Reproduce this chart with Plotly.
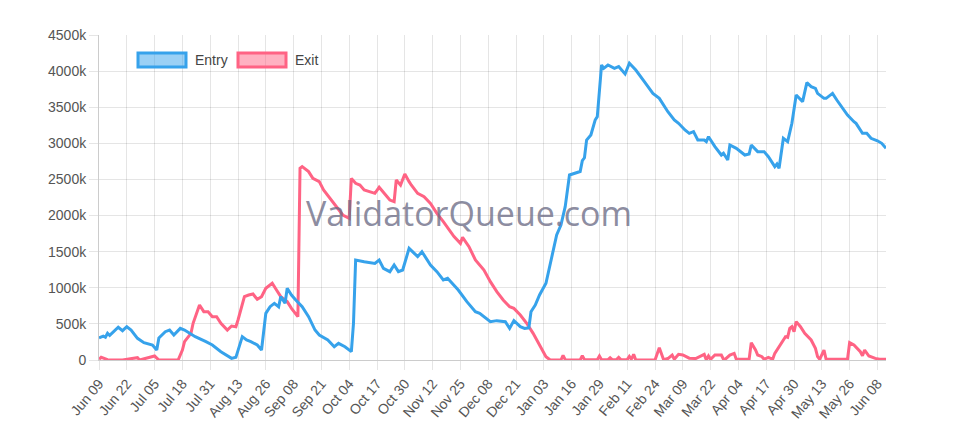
import plotly.graph_objects as go

# ---------------- data (values in thousands) ----------------
entry_dates = [
    "2024-06-09", "2024-06-11", "2024-06-12", "2024-06-13", "2024-06-14", "2024-06-16", "2024-06-18",
    "2024-06-20", "2024-06-22", "2024-06-24", "2024-06-27", "2024-06-30", "2024-07-04", "2024-07-06",
    "2024-07-07", "2024-07-10", "2024-07-12", "2024-07-14", "2024-07-17", "2024-07-19", "2024-07-24",
    "2024-07-29", "2024-08-01", "2024-08-05", "2024-08-10", "2024-08-12", "2024-08-15", "2024-08-17",
    "2024-08-19", "2024-08-22", "2024-08-24", "2024-08-26", "2024-08-28", "2024-08-30", "2024-09-01",
    "2024-09-02", "2024-09-04", "2024-09-05", "2024-09-07", "2024-09-09", "2024-09-12", "2024-09-15",
    "2024-09-18", "2024-09-20", "2024-09-24", "2024-09-27", "2024-09-29", "2024-10-02", "2024-10-05",
    "2024-10-06", "2024-10-07", "2024-10-11", "2024-10-16", "2024-10-18", "2024-10-20", "2024-10-23",
    "2024-10-25", "2024-10-27", "2024-10-29", "2024-11-01", "2024-11-05", "2024-11-07", "2024-11-11",
    "2024-11-14", "2024-11-17", "2024-11-19", "2024-11-24", "2024-11-28", "2024-12-02", "2024-12-04",
    "2024-12-06", "2024-12-09", "2024-12-12", "2024-12-16", "2024-12-18", "2024-12-20", "2024-12-23",
    "2024-12-25", "2024-12-27", "2024-12-28", "2024-12-30", "2025-01-01", "2025-01-04", "2025-01-06",
    "2025-01-08", "2025-01-09", "2025-01-11", "2025-01-13", "2025-01-15", "2025-01-18", "2025-01-20",
    "2025-01-21", "2025-01-22", "2025-01-23", "2025-01-25", "2025-01-27", "2025-01-28", "2025-01-30",
    "2025-01-31", "2025-02-02", "2025-02-05", "2025-02-07", "2025-02-10", "2025-02-12", "2025-02-15",
    "2025-02-19", "2025-02-23", "2025-02-26", "2025-03-02", "2025-03-05", "2025-03-07", "2025-03-10",
    "2025-03-12", "2025-03-14", "2025-03-16", "2025-03-19", "2025-03-20", "2025-03-21", "2025-03-24",
    "2025-03-27", "2025-03-28", "2025-03-30", "2025-03-31", "2025-04-03", "2025-04-07", "2025-04-09",
    "2025-04-10", "2025-04-13", "2025-04-16", "2025-04-18", "2025-04-21", "2025-04-22", "2025-04-23",
    "2025-04-25", "2025-04-27", "2025-04-29", "2025-05-01", "2025-05-04", "2025-05-06", "2025-05-08",
    "2025-05-10", "2025-05-11", "2025-05-14", "2025-05-15", "2025-05-18", "2025-05-20", "2025-05-23",
    "2025-05-25", "2025-05-28", "2025-05-29", "2025-06-01", "2025-06-03", "2025-06-05", "2025-06-08",
    "2025-06-10", "2025-06-12",
]
entry_values = [
    305, 330, 315, 370, 340, 392, 453,
    406, 461, 415, 300, 240, 208, 138,
    305, 392, 415, 346, 438, 415, 323,
    254, 208, 115, 23, 37, 323, 277,
    254, 208, 138, 646, 738, 785, 738,
    877, 785, 993, 900, 831, 738, 600,
    415, 346, 277, 184, 231, 184, 115,
    508, 1385, 1361, 1338, 1385, 1269, 1223,
    1315, 1223, 1246, 1546, 1431, 1500, 1315,
    1223, 1108, 1131, 969, 808, 669, 646,
    600, 531, 545, 531, 438, 545, 461,
    438, 445, 669, 760, 900, 1062, 1338,
    1615, 1731, 1869, 2123, 2562, 2585, 2610,
    2760, 2800, 3046, 3115, 3323, 3369, 4085,
    4038, 4085, 4038, 4062, 3960, 4108, 4015,
    3854, 3692, 3623, 3438, 3323, 3277, 3185,
    3138, 3162, 3046, 3046, 3023, 3092, 2954,
    2838, 2862, 2769, 2977, 2931, 2838, 2852,
    2977, 2885, 2885, 2815, 2677, 2714, 2654,
    3069, 3023, 3277, 3669, 3577, 3840, 3785,
    3762, 3692, 3623, 3623, 3692, 3600, 3485,
    3392, 3300, 3277, 3138, 3138, 3069, 3035,
    3000, 2931,
]

exit_dates = [
    "2024-06-09", "2024-06-10", "2024-06-13", "2024-06-20", "2024-06-27", "2024-06-28", "2024-07-05",
    "2024-07-07", "2024-07-16", "2024-07-18", "2024-07-19", "2024-07-22", "2024-07-23", "2024-07-25",
    "2024-07-26", "2024-07-28", "2024-07-30", "2024-08-01", "2024-08-03", "2024-08-05", "2024-08-08",
    "2024-08-10", "2024-08-12", "2024-08-13", "2024-08-16", "2024-08-18", "2024-08-20", "2024-08-22",
    "2024-08-24", "2024-08-26", "2024-08-29", "2024-08-31", "2024-09-02", "2024-09-05", "2024-09-07",
    "2024-09-10", "2024-09-11", "2024-09-12", "2024-09-15", "2024-09-17", "2024-09-20", "2024-09-22",
    "2024-09-25", "2024-09-28", "2024-10-01", "2024-10-04", "2024-10-05", "2024-10-07", "2024-10-09",
    "2024-10-11", "2024-10-14", "2024-10-16", "2024-10-18", "2024-10-21", "2024-10-23", "2024-10-25",
    "2024-10-26", "2024-10-28", "2024-10-30", "2024-11-01", "2024-11-02", "2024-11-05", "2024-11-08",
    "2024-11-11", "2024-11-14", "2024-11-17", "2024-11-20", "2024-11-22", "2024-11-25", "2024-11-26",
    "2024-11-29", "2024-12-02", "2024-12-06", "2024-12-09", "2024-12-12", "2024-12-15", "2024-12-18",
    "2024-12-20", "2024-12-23", "2024-12-26", "2024-12-29", "2025-01-01", "2025-01-04", "2025-01-06",
    "2025-01-11", "2025-01-12", "2025-01-13", "2025-01-20", "2025-01-21", "2025-01-22", "2025-01-28",
    "2025-01-29", "2025-01-30", "2025-02-02", "2025-02-03", "2025-02-04", "2025-02-06", "2025-02-07",
    "2025-02-08", "2025-02-11", "2025-02-12", "2025-02-13", "2025-02-14", "2025-02-15", "2025-02-24",
    "2025-02-26", "2025-02-28", "2025-03-02", "2025-03-04", "2025-03-05", "2025-03-07", "2025-03-09",
    "2025-03-12", "2025-03-15", "2025-03-18", "2025-03-19", "2025-03-20", "2025-03-21", "2025-03-22",
    "2025-03-24", "2025-03-27", "2025-03-28", "2025-03-29", "2025-03-31", "2025-04-02", "2025-04-03",
    "2025-04-09", "2025-04-10", "2025-04-12", "2025-04-13", "2025-04-15", "2025-04-16", "2025-04-18",
    "2025-04-20", "2025-04-21", "2025-04-23", "2025-04-25", "2025-04-26", "2025-04-27", "2025-04-28",
    "2025-04-29", "2025-04-30", "2025-05-01", "2025-05-03", "2025-05-05", "2025-05-08", "2025-05-10",
    "2025-05-11", "2025-05-12", "2025-05-14", "2025-05-15", "2025-05-25", "2025-05-26", "2025-05-28",
    "2025-05-31", "2025-06-01", "2025-06-02", "2025-06-04", "2025-06-07", "2025-06-09", "2025-06-12",
]
exit_values = [
    10, 37, 5, 0, 32, 0, 55,
    0, 0, 138, 254, 369, 508, 692,
    762, 669, 669, 600, 600, 508, 415,
    471, 461, 554, 877, 900, 914, 840,
    877, 993, 1062, 969, 877, 808, 715,
    600, 2654, 2677, 2608, 2515, 2469, 2354,
    2238, 2123, 2008, 1962, 2515, 2446, 2423,
    2354, 2331, 2308, 2391, 2285, 2215, 2192,
    2492, 2423, 2575, 2469, 2423, 2308, 2262,
    2169, 2031, 1915, 1800, 1708, 1615, 1698,
    1569, 1385, 1246, 1085, 946, 831, 738,
    715, 623, 508, 369, 208, 46, 0,
    0, 65, 5, 0, 60, 5, 5,
    55, 5, 5, 30, 5, 5, 35,
    5, 5, 50, 10, 80, 0, 0,
    170, 5, 20, 69, 10, 78, 69,
    25, 20, 69, 78, 0, 55, 10,
    69, 69, 10, 15, 69, 92, 10,
    10, 240, 138, 69, 46, 10, 37,
    10, 92, 185, 286, 323, 314, 438,
    461, 392, 531, 461, 369, 277, 162,
    46, 10, 138, 10, 10, 240, 208,
    115, 60, 138, 55, 23, 10, 10,
]

y_tick_values = [0, 500, 1000, 1500, 2000, 2500, 3000, 3500, 4000, 4500]
y_tick_labels = ["0", "500k", "1000k", "1500k", "2000k", "2500k", "3000k", "3500k", "4000k", "4500k"]

series_names = ["Entry", "Exit"]
BLUE = "#36A2EB"
RED = "#FF6384"
GRID = "rgba(0,0,0,0.1)"
FONT = "Liberation Sans, Arial, Helvetica, sans-serif"

fig = go.Figure()
fig.add_trace(go.Scatter(x=exit_dates, y=exit_values, mode="lines", name=series_names[1],
                         line=dict(color=RED, width=3), showlegend=False))
fig.add_trace(go.Scatter(x=entry_dates, y=entry_values, mode="lines", name=series_names[0],
                         line=dict(color=BLUE, width=3), showlegend=False))

# page has an 8px body margin; target plot area on screen: x 99..886, y 35..360
OFF = 8
W, H = 962 - OFF, 443 - OFF
L, T = 99 - OFF, 35 - OFF
R = W - (886 - OFF)
B = H - (360 - OFF)
pw, ph = W - L - R, H - T - B


def px(x):
    return (x - OFF - L) / pw


def py(y):
    return (T + ph - (y - OFF)) / ph


shapes = []
annotations = []
for name, col, fillc, x0 in [(series_names[0], BLUE, "rgba(54,162,235,0.5)", 138),
                             (series_names[1], RED, "rgba(255,99,132,0.5)", 238)]:
    shapes.append(dict(type="rect", xref="paper", yref="paper",
                       x0=px(x0), x1=px(x0 + 48), y0=py(67), y1=py(53),
                       line=dict(color=col, width=3), fillcolor=fillc))
    annotations.append(dict(text=name, xref="paper", yref="paper", x=px(x0 + 55), y=py(60),
                            xanchor="left", yanchor="middle", showarrow=False,
                            font=dict(family=FONT, size=14, color="#444")))

annotations.append(dict(text="ValidatorQueue.com", xref="paper", yref="paper",
                        x=px(469), y=py(213), xanchor="center", yanchor="middle", showarrow=False,
                        font=dict(family="Open Sans, sans-serif", size=34, color="rgba(110,110,135,0.8)")))

fig.update_layout(
    width=W, height=H,
    margin=dict(l=L, r=R, t=T, b=B),
    paper_bgcolor="white", plot_bgcolor="white",
    font=dict(family=FONT, size=14, color="#555"),
    shapes=shapes, annotations=annotations,
    showlegend=False,
)
fig.update_xaxes(
    type="date", range=["2024-06-09", "2025-06-12"],
    tick0="2024-06-09", dtick=13 * 86400000, tickformat="%b %d", tickangle=-50,
    showgrid=True, gridcolor=GRID, gridwidth=1,
    ticks="outside", ticklen=9, tickcolor=GRID,
    showline=True, linecolor="rgba(0,0,0,0.2)", linewidth=1,
    zeroline=False, tickfont=dict(size=14, color="#555"),
)
fig.update_yaxes(
    range=[0, 4500], tickvals=y_tick_values, ticktext=y_tick_labels,
    showgrid=True, gridcolor=GRID, gridwidth=1,
    ticks="outside", ticklen=9, tickcolor=GRID,
    showline=True, linecolor="rgba(0,0,0,0.2)", linewidth=1,
    zeroline=False, tickfont=dict(size=14, color="#555"),
)

fig.write_html("out.html")
